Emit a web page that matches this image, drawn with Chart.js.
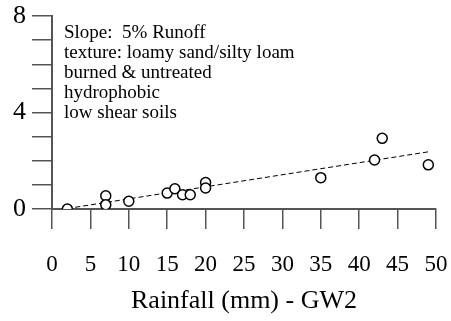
<!DOCTYPE html>
<html>
<head>
<meta charset="utf-8">
<script src="https://cdn.jsdelivr.net/npm/chart.js@4/dist/chart.umd.min.js"></script>
<style>
  html, body { margin: 0; padding: 0; background: #fff; }
  #wrap { width: 451px; height: 321px; }
</style>
</head>
<body>
<div id="wrap"><canvas id="runoffChart"></canvas></div>
<script>
// rainfall (mm) vs runoff, GW2 plot
var rainfall = [2, 7, 7, 10, 15, 16, 17, 18, 20, 20, 35, 42, 43, 49];
var runoff = [0, 0.55, 0.18, 0.32, 0.66, 0.84, 0.59, 0.59, 1.1, 0.87, 1.3, 2.03, 2.93, 1.83];

// fitted trend line end points
var fitX = [2, 49];
var fitY = [0.02, 2.37];

var notes = [
    'Slope:  5% Runoff',
    'texture: loamy sand/silty loam',
    'burned & untreated',
    'hydrophobic',
    'low shear soils'
];

var axisColor = '#555555';
var serif = 'Liberation Serif, Times New Roman, serif';

// text block in the upper left of the plot
var notesPlugin = {
    id: 'notes',
    afterDraw: function(chart) {
        var ctx = chart.ctx;
        ctx.save();
        ctx.fillStyle = '#000';
        ctx.font = '19px ' + serif;
        ctx.textBaseline = 'middle';
        notes.forEach(function(line, i) {
            ctx.fillText(line, chart.chartArea.left + 12, 33 + i * 20);
        });
        ctx.restore();
    }
};

var ctx = document.getElementById('runoffChart').getContext('2d');
new Chart(ctx, {
    type: 'scatter',
    data: {
        datasets: [
            {
                data: rainfall.map(function(x, i) { return { x: x, y: runoff[i] }; }),
                pointStyle: 'circle',
                pointRadius: 5,
                pointBorderWidth: 1.5,
                pointBorderColor: '#000',
                pointBackgroundColor: '#fff',
                showLine: false
            },
            {
                data: fitX.map(function(x, i) { return { x: x, y: fitY[i] }; }),
                showLine: true,
                borderColor: '#000',
                borderWidth: 1,
                borderDash: [5, 3],
                pointRadius: 0,
                order: 1
            }
        ]
    },
    options: {
        responsive: true,
        maintainAspectRatio: false,
        animation: false,
        layout: { padding: { top: 16, right: 15, left: 0, bottom: 0 } },
        plugins: {
            legend: { display: false },
            tooltip: { enabled: false }
        },
        scales: {
            x: {
                type: 'linear',
                min: 0,
                max: 50,
                border: { color: axisColor, width: 2 },
                grid: {
                    drawOnChartArea: false,
                    color: axisColor,
                    lineWidth: 1.5,
                    tickLength: 20
                },
                ticks: {
                    stepSize: 5,
                    color: '#000',
                    padding: 22,
                    maxRotation: 0,
                    font: { family: serif, size: 23 }
                },
                title: {
                    display: true,
                    text: 'Rainfall (mm) - GW2',
                    color: '#000',
                    padding: { top: 6, bottom: 4 },
                    font: { family: serif, size: 26 }
                },
                afterFit: function(scale) {
                    scale.height = 112;
                    scale.paddingLeft = 0;
                    scale.paddingRight = 0;
                }
            },
            y: {
                min: 0,
                max: 8,
                border: { color: axisColor, width: 2 },
                grid: {
                    drawOnChartArea: false,
                    color: axisColor,
                    lineWidth: 1.5,
                    tickLength: 20
                },
                ticks: {
                    stepSize: 1,
                    color: '#000',
                    padding: 6,
                    autoSkip: false,
                    font: { family: serif, size: 26 },
                    callback: function(v) { return v % 4 === 0 ? v : ''; }
                },
                afterFit: function(scale) {
                    scale.width = 52;
                    scale.paddingTop = 0;
                    scale.paddingBottom = 0;
                }
            }
        }
    },
    plugins: [notesPlugin]
});
</script>
</body>
</html>
